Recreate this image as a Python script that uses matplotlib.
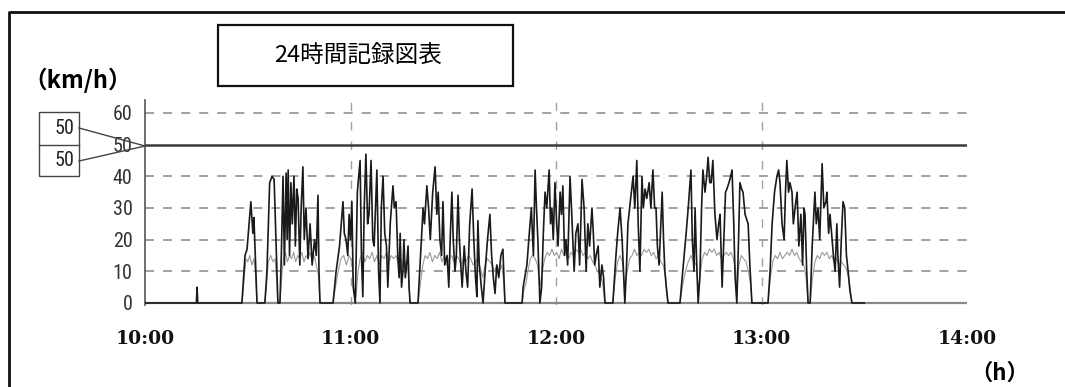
import matplotlib
matplotlib.use("Agg")
import matplotlib.pyplot as plt
from matplotlib.patches import Rectangle
from matplotlib.lines import Line2D

# ---------------- data ----------------
title = "24時間記録図表"
y_unit = "（km/h）"
x_unit = "（h）"
x_tick_minutes = [0, 60, 120, 180, 240]
x_tick_labels = ["10:00", "11:00", "12:00", "13:00", "14:00"]
y_ticks = [0, 10, 20, 30, 40, 50, 60]
y_grid = [10, 20, 30, 40, 60]
v_grid_minutes = [60, 120, 180]
speed_limit = 50
legend_values = ["50", "50"]

# dark trace: speed (minutes after 10:00, km/h)
speed_points = [
    (0, 0), (15.0, 0), (15.2, 5), (15.4, 0),
    (28.3, 0), (29.2, 15), (29.8, 17), (30.9, 32), (31.5, 22), (31.8, 27), (32.2, 15), (32.7, 0),
    (35.0, 0), (35.6, 10), (36.4, 38), (37.1, 40), (37.7, 39), (38.5, 10), (38.8, 0), (39.4, 0),
    (39.8, 15), (40.3, 40), (40.7, 12), (41.2, 41), (41.5, 20), (41.8, 42), (42.2, 15), (42.6, 38),
    (43.0, 25), (43.5, 40), (43.9, 18), (44.3, 36), (44.7, 33), (45.2, 12), (45.6, 30), (46.1, 43),
    (46.5, 20), (47.0, 30), (47.6, 14), (48.2, 25), (48.8, 12), (49.5, 20), (50.0, 15), (50.5, 34),
    (50.8, 10), (51.1, 0),
    (54.9, 0), (55.8, 10), (56.8, 18), (57.8, 32), (58.2, 22), (58.7, 20), (59.2, 15), (59.6, 28),
    (60.0, 20), (60.4, 32), (60.8, 5), (61.4, 0), (62.0, 35), (62.8, 45), (63.2, 15), (63.6, 2),
    (64.0, 30), (64.5, 47), (65.0, 25), (65.4, 28), (66.0, 45), (66.5, 20), (66.9, 18), (67.3, 30),
    (67.7, 42), (68.2, 10), (68.6, 0), (69.0, 30), (69.5, 40), (70.0, 22), (70.5, 18), (70.9, 5),
    (71.6, 25), (72.4, 37), (72.8, 30), (73.3, 32), (73.8, 15), (74.2, 8), (74.5, 22), (74.9, 5),
    (75.3, 10), (75.6, 20), (76.0, 8), (76.4, 12), (76.8, 18), (77.1, 5), (77.4, 0),
    (79.7, 0), (80.3, 12), (81.2, 30), (81.6, 25), (82.3, 37), (82.8, 30), (83.3, 20), (84.0, 35),
    (84.7, 43), (85.2, 28), (85.6, 35), (86.1, 20), (86.6, 15), (87.0, 32), (87.5, 12), (88.2, 15),
    (88.7, 5), (89.1, 20), (89.6, 35), (90.0, 20), (90.5, 10), (90.9, 15), (91.4, 34), (91.8, 20),
    (92.2, 12), (92.6, 5), (93.2, 18), (93.7, 10), (94.2, 5), (94.8, 25), (95.5, 36), (96.0, 20),
    (96.5, 8), (96.9, 2), (97.2, 26), (97.6, 12), (98.2, 5), (98.7, 0), (99.3, 10), (100.0, 20),
    (100.7, 28), (101.2, 15), (101.7, 8), (102.2, 3), (102.7, 12), (103.3, 8), (103.9, 15),
    (104.5, 17), (104.8, 8), (105.1, 0),
    (110.1, 0), (110.4, 5), (111.5, 12), (112.2, 22), (112.8, 30), (113.4, 15), (113.9, 42),
    (114.3, 30), (114.7, 20), (115.3, 0), (115.8, 5), (116.3, 22), (116.8, 35), (117.3, 30),
    (118.0, 42), (118.4, 25), (118.8, 30), (119.2, 20), (119.7, 38), (120.2, 25), (120.6, 18),
    (121.2, 35), (121.6, 28), (122.0, 37), (122.5, 15), (122.9, 20), (123.4, 12), (124.1, 40),
    (124.6, 28), (125.3, 10), (125.8, 22), (126.4, 25), (126.9, 12), (127.6, 39), (128.2, 30),
    (128.8, 10), (129.3, 25), (129.8, 18), (130.5, 30), (130.9, 22), (131.3, 12), (131.7, 15),
    (132.3, 18), (132.8, 5), (133.4, 12), (133.9, 8), (134.3, 0),
    (136.6, 0), (137.5, 15), (138.0, 22), (138.7, 30), (139.3, 20), (140.1, 0), (140.6, 12),
    (141.0, 25), (141.5, 30), (142.0, 35), (142.5, 40), (143.0, 30), (143.6, 45), (144.0, 25),
    (144.5, 10), (145.1, 40), (145.5, 30), (146.0, 36), (146.5, 33), (147.2, 38), (147.7, 30),
    (148.3, 42), (148.8, 30), (149.2, 30), (149.6, 18), (150.1, 12), (150.6, 25), (151.0, 35),
    (151.4, 20), (151.8, 10), (152.2, 5), (152.7, 0),
    (156.2, 0), (157.0, 10), (158.0, 22), (158.6, 30), (159.4, 42), (159.8, 20), (160.3, 10),
    (160.6, 30), (161.0, 15), (161.5, 0), (162.0, 8), (162.5, 30), (162.9, 42), (163.5, 35),
    (164.0, 40), (164.4, 46), (164.9, 38), (165.3, 38), (165.8, 45), (166.4, 28), (167.0, 20),
    (167.5, 25), (167.9, 28), (168.5, 5), (169.0, 20), (169.5, 35), (169.9, 36), (170.5, 38),
    (171.0, 40), (171.4, 42), (171.9, 25), (172.3, 8), (172.8, 0), (173.3, 20), (173.7, 38),
    (174.2, 36), (174.6, 35), (175.2, 28), (176.1, 25), (176.6, 12), (177.2, 0),
    (181.9, 0), (182.5, 10), (183.1, 25), (183.8, 35), (184.5, 40), (185.0, 42), (185.4, 38),
    (186.0, 25), (186.6, 20), (187.0, 35), (187.4, 45), (187.9, 35), (188.3, 38), (188.9, 35),
    (189.3, 25), (189.8, 30), (190.4, 35), (190.9, 18), (191.5, 28), (192.0, 12), (192.4, 30),
    (192.7, 28), (193.2, 10), (193.6, 0),
    (194.2, 0), (194.8, 18), (195.6, 35), (196.0, 25), (196.5, 30), (197.0, 20), (197.7, 44),
    (198.2, 30), (198.8, 32), (199.1, 35), (199.6, 22), (200.0, 28), (200.6, 20), (201.0, 15),
    (201.5, 10), (202.0, 25), (202.3, 15), (202.8, 5), (203.3, 20), (203.8, 32), (204.3, 30),
    (204.8, 15), (205.3, 10), (205.8, 4), (206.4, 0), (210.0, 0),
]
speed_min = [p[0] for p in speed_points]
speed_kmh = [p[1] for p in speed_points]

# light trace (second channel, around 10-17)
light_points = [
    (28.3, 0), (29.0, 8), (29.5, 14), (30.0, 13), (30.6, 15), (31.2, 12), (31.8, 14), (32.3, 9), (32.7, 0),
    (35.0, 0), (35.5, 6), (36.0, 13), (36.7, 15), (37.4, 13), (38.0, 14), (38.5, 6), (38.8, 0),
    (39.4, 0), (39.9, 8), (40.4, 14), (41.0, 16), (41.6, 13), (42.2, 15), (42.8, 14), (43.4, 16),
    (44.0, 13), (44.6, 15), (45.2, 14), (45.8, 16), (46.4, 13), (47.0, 15), (47.6, 14), (48.2, 16),
    (48.8, 13), (49.4, 15), (50.0, 12), (50.6, 9), (51.1, 0),
    (54.9, 0), (55.6, 5), (56.4, 10), (57.2, 14), (58.0, 15), (58.8, 12), (59.6, 15), (60.4, 13),
    (61.0, 5), (61.6, 2), (62.2, 10), (62.8, 14), (63.5, 16), (64.2, 13), (64.9, 15), (65.6, 14),
    (66.3, 16), (67.0, 13), (67.7, 15), (68.4, 12), (69.1, 15), (69.8, 14), (70.5, 16), (71.2, 13),
    (71.9, 15), (72.6, 14), (73.3, 15), (74.0, 12), (74.7, 14), (75.4, 11), (76.1, 13), (76.8, 10), (77.4, 0),
    (79.7, 0), (80.4, 6), (81.1, 12), (81.8, 15), (82.5, 14), (83.2, 16), (83.9, 13), (84.6, 15),
    (85.3, 14), (86.0, 16), (86.7, 13), (87.4, 15), (88.1, 12), (88.8, 14), (89.5, 15), (90.2, 13),
    (90.9, 15), (91.6, 14), (92.3, 12), (93.0, 14), (93.7, 13), (94.4, 15), (95.1, 14), (95.8, 12),
    (96.5, 13), (97.2, 14), (97.9, 11), (98.6, 8), (99.3, 12), (100.0, 14), (100.7, 13), (101.4, 12),
    (102.1, 10), (102.8, 12), (103.5, 10), (104.2, 12), (104.8, 6), (105.1, 0),
    (110.1, 0), (110.6, 4), (111.2, 6), (111.8, 10), (112.5, 14), (113.2, 15), (113.9, 14), (114.6, 12),
    (115.3, 5), (116.0, 10), (116.7, 14), (117.4, 16), (118.1, 15), (118.8, 17), (119.5, 15), (120.2, 16),
    (120.9, 14), (121.6, 17), (122.3, 15), (123.0, 16), (123.7, 14), (124.4, 16), (125.1, 15), (125.8, 17),
    (126.5, 16), (127.2, 17), (127.9, 15), (128.6, 16), (129.3, 14), (130.0, 15), (130.7, 13), (131.4, 12),
    (132.1, 10), (132.8, 9), (133.5, 7), (134.3, 0),
    (136.6, 0), (137.3, 8), (138.0, 13), (138.7, 15), (139.4, 13), (140.1, 5), (140.8, 10), (141.5, 14),
    (142.2, 15), (142.9, 17), (143.6, 15), (144.3, 16), (145.0, 15), (145.7, 17), (146.4, 16), (147.1, 17),
    (147.8, 15), (148.5, 16), (149.2, 14), (149.9, 15), (150.6, 13), (151.3, 12), (152.0, 8), (152.7, 0),
    (156.2, 0), (157.0, 6), (157.8, 10), (158.6, 13), (159.4, 15), (160.2, 13), (161.0, 12), (161.5, 4),
    (162.0, 8), (162.7, 14), (163.4, 16), (164.1, 15), (164.8, 17), (165.5, 16), (166.2, 17), (166.9, 15),
    (167.6, 16), (168.3, 14), (169.0, 15), (169.7, 16), (170.4, 15), (171.1, 16), (171.8, 14), (172.5, 10),
    (172.8, 4), (173.4, 12), (174.1, 15), (174.8, 14), (175.5, 13), (176.2, 10), (176.8, 6), (177.2, 0),
    (181.9, 0), (182.6, 8), (183.3, 13), (184.0, 15), (184.7, 14), (185.4, 16), (186.1, 14), (186.8, 15),
    (187.5, 16), (188.2, 15), (188.9, 17), (189.6, 15), (190.3, 16), (191.0, 14), (191.7, 13), (192.4, 12),
    (193.0, 8), (193.6, 0),
    (194.2, 0), (194.9, 8), (195.6, 13), (196.3, 15), (197.0, 14), (197.7, 16), (198.4, 15), (199.1, 16),
    (199.8, 14), (200.5, 15), (201.2, 13), (201.9, 14), (202.6, 12), (203.3, 13), (204.0, 12), (204.7, 11),
    (205.4, 8), (206.0, 4), (206.4, 0),
]
light_min = [p[0] for p in light_points]
light_kmh = [p[1] for p in light_points]

# ---------------- figure ----------------
W, H = 1065, 387
fig = plt.figure(figsize=(W / 100, H / 100), dpi=100)
fig.patch.set_facecolor("white")

def fx(px):
    return px / W

def fy(py):
    return 1 - py / H

ymin, ymax = -0.6, 64.1
px_per_unit = 203 / 64.1
ax_bottom_px = 303 + 0.6 * px_per_unit
ax = fig.add_axes([fx(145), fy(ax_bottom_px), fx(967) - fx(145), (ax_bottom_px - 100) / H])
ax.set_xlim(0, 240)
ax.set_ylim(ymin, ymax)

for s in ["top", "right", "bottom"]:
    ax.spines[s].set_visible(False)
ax.spines["left"].set_color("#555555")
ax.spines["left"].set_linewidth(1.2)

# grid
for g in y_grid:
    ax.axhline(g, color="#9a9a9a", lw=1.3, ls=(0, (5, 5)), zorder=1)
for v in v_grid_minutes:
    ax.axvline(v, color="#a0a0a0", lw=1.0, ls=(0, (6, 8)), zorder=1)

# baseline and speed limit
ax.plot([0, 240], [0, 0], color="#888888", lw=1.6, zorder=2, solid_capstyle="butt")
ax.plot([0, 240], [speed_limit, speed_limit], color="#3a3a3a", lw=1.8, zorder=3)

# traces
ax.plot(light_min, light_kmh, color="#9a9a9a", lw=0.8, zorder=4)
ax.plot(speed_min, speed_kmh, color="#1a1a1a", lw=1.2, zorder=5)

# ticks
narrow = ["Liberation Sans Narrow", "Roboto Condensed", "Roboto", "DejaVu Sans"]
ax.set_yticks(y_ticks)
ax.set_yticklabels([str(v) for v in y_ticks], family=narrow, fontsize=14.5, color="#333333")
ax.tick_params(axis="y", length=0, pad=9)
ax.set_xticks(x_tick_minutes)
ax.set_xticklabels(x_tick_labels, family="DejaVu Serif", fontweight="bold", fontsize=13.5, color="#111111")
ax.tick_params(axis="x", length=0, pad=18)

# texts
cjk = ["Noto Sans CJK JP", "DejaVu Sans"]
fig.text(fx(78), fy(80), y_unit, ha="center", va="center", family=cjk, fontweight="bold", fontsize=17)
fig.text(fx(1000), fy(373), x_unit, ha="center", va="center", family=cjk, fontweight="bold", fontsize=16)

# title box
fig.patches.append(Rectangle((fx(218), fy(86)), fx(513) - fx(218), fy(25) - fy(86),
                             transform=fig.transFigure, fill=False, ec="#111111", lw=1.6))
fig.text(fx(358), fy(56), title, ha="center", va="center", family=cjk, fontsize=17)

# outer frame (left and top)
fig.lines.append(Line2D([fx(9), fx(9), fx(1065)], [fy(387), fy(12), fy(12)],
                        transform=fig.transFigure, color="#111111", lw=2.0))

# legend boxes with leader lines
fig.patches.append(Rectangle((fx(39), fy(176)), fx(79) - fx(39), fy(112) - fy(176),
                             transform=fig.transFigure, fill=False, ec="#444444", lw=1.0))
fig.lines.append(Line2D([fx(39), fx(79)], [fy(145), fy(145)], transform=fig.transFigure,
                        color="#444444", lw=1.0))
fig.text(fx(74), fy(128), legend_values[0], ha="right", va="center", family=narrow, fontsize=14.5, color="#222222")
fig.text(fx(74), fy(161), legend_values[1], ha="right", va="center", family=narrow, fontsize=14.5, color="#222222")
fig.lines.append(Line2D([fx(79), fx(145)], [fy(128), fy(146)], transform=fig.transFigure,
                        color="#444444", lw=1.0))
fig.lines.append(Line2D([fx(79), fx(145)], [fy(161), fy(146)], transform=fig.transFigure,
                        color="#444444", lw=1.0))

fig.savefig("out.png", dpi=100, facecolor="white")
